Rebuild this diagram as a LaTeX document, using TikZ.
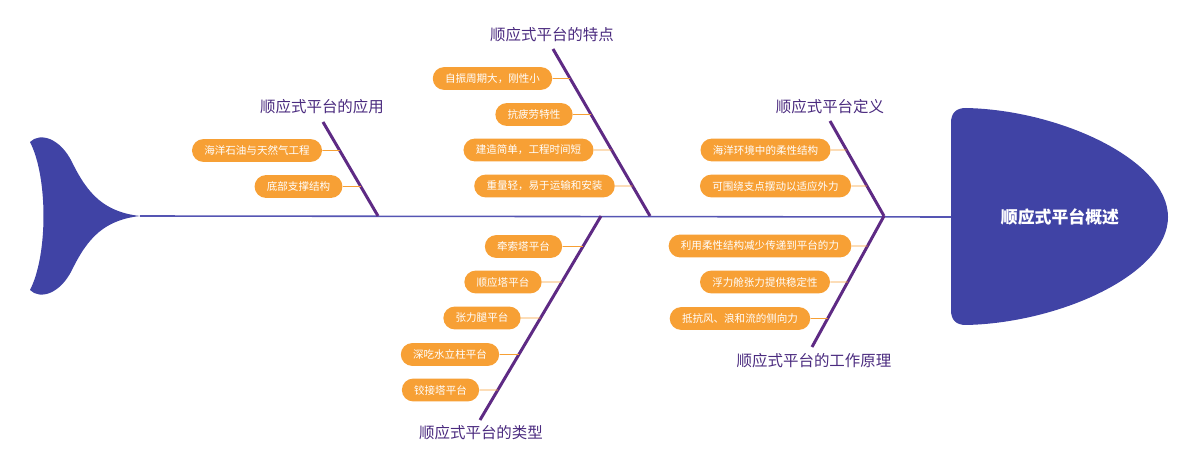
\documentclass[tikz,border=0pt]{standalone}
\usepackage{fontspec}
\newfontfamily\cjk{Noto Sans CJK SC}
\usepackage{xcolor}
\usetikzlibrary{calc}
\definecolor{fishblue}{HTML}{4043A5}
\definecolor{spineblue}{HTML}{5555B3}
\definecolor{bonepurple}{HTML}{5E2A84}
\definecolor{labelpurple}{HTML}{4B2B7F}
\definecolor{leaforange}{HTML}{F7A035}

\begin{document}
\begin{tikzpicture}[x=0.02cm,y=-0.02cm,
  bone/.style={line width=1.7pt,bonepurple},
  cat/.style={labelpurple,font=\cjk\fontsize{8.8}{10}\selectfont},
  leaf/.style={fill=leaforange,text=white,rounded corners=6.5pt,minimum height=13pt,
    inner xsep=7pt,inner ysep=0pt,font=\cjk\fontsize{6}{7}\selectfont},
  twig/.style={leaforange,line width=0.5pt}]
  \useasboundingbox (0,0) rectangle (1200,469);
  \fill[fishblue] (30,142) .. controls (40,132) and (60,138) .. (72,162)
    .. controls (88,195) and (105,212) .. (140,216)
    .. controls (105,220) and (88,237) .. (72,270)
    .. controls (60,294) and (40,300) .. (30,290)
    .. controls (48,255) and (48,177) .. (30,142) -- cycle;
  \fill[fishblue] (951,123) .. controls (951,113) and (956,108) .. (966,108)
    .. controls (1060,110) and (1168,160) .. (1168,217)
    .. controls (1168,274) and (1060,323) .. (966,325)
    .. controls (956,325) and (951,320) .. (951,310) -- cycle;
  \node[white,font=\cjk\bfseries\fontsize{9.6}{11}\selectfont] (head) at (1060,217) {顺应式平台概述};
  \coordinate (tail) at (140,216);
  \draw[spineblue,line width=0.9pt] (tail) -- (head.west -| 951,0);

  \coordinate (yyt) at (323,122); \coordinate (yyb) at (378,216);
  \coordinate (tdt) at (553,49);  \coordinate (tdb) at (650,216);
  \coordinate (dyt) at (830,121); \coordinate (dyb) at (884,216);
  \coordinate (lxt) at (601,216); \coordinate (lxb) at (480,420);
  \coordinate (ylt) at (884,216); \coordinate (ylb) at (812,347);
  \draw[bone] (yyt) -- (yyb);
  \draw[bone] (tdt) -- (tdb);
  \draw[bone] (dyt) -- (dyb);
  \draw[bone] (lxt) -- (lxb);
  \draw[bone] (ylt) -- (ylb);

  \node[cat] (yy) at (322,107) {顺应式平台的应用};
  \node[cat] (td) at (552,35) {顺应式平台的特点};
  \node[cat] (dy) at (830,107) {顺应式平台定义};
  \node[cat] (lx) at (481,433) {顺应式平台的类型};
  \node[cat] (yl) at (814,361) {顺应式平台的工作原理};

  \node[leaf] (yy1) at (257,150.5) {海洋石油与天然气工程};
  \node[leaf] (yy2) at (298.5,186.5) {底部支撑结构};
  \node[leaf] (td1) at (492.5,78.5) {自振周期大，刚性小};
  \node[leaf] (td2) at (534,114.5) {抗疲劳特性};
  \node[leaf] (td3) at (528.5,150) {建造简单，工程时间短};
  \node[leaf] (td4) at (544.5,186) {重量轻，易于运输和安装};
  \node[leaf] (dy1) at (765.5,150) {海洋环境中的柔性结构};
  \node[leaf] (dy2) at (775.5,186) {可围绕支点摆动以适应外力};
  \node[leaf] (lx1) at (523.5,246.5) {牵索塔平台};
  \node[leaf] (lx2) at (503,282) {顺应塔平台};
  \node[leaf] (lx3) at (482,318) {张力腿平台};
  \node[leaf] (lx4) at (450,354.5) {深吃水立柱平台};
  \node[leaf] (lx5) at (440.5,390) {铰接塔平台};
  \node[leaf] (yl1) at (760,246) {利用柔性结构减少传递到平台的力};
  \node[leaf] (yl2) at (765,282) {浮力舱张力提供稳定性};
  \node[leaf] (yl3) at (740,318.5) {抵抗风、浪和流的侧向力};

  \foreach \b/\g in {yy1/yy,yy2/yy,td1/td,td2/td,td3/td,td4/td,dy1/dy,dy2/dy,
    lx1/lx,lx2/lx,lx3/lx,lx4/lx,lx5/lx,yl1/yl,yl2/yl,yl3/yl}
    \draw[twig] (\b.east) -- (intersection of \b.east--\b.west and \g t--\g b);
\end{tikzpicture}
\end{document}
